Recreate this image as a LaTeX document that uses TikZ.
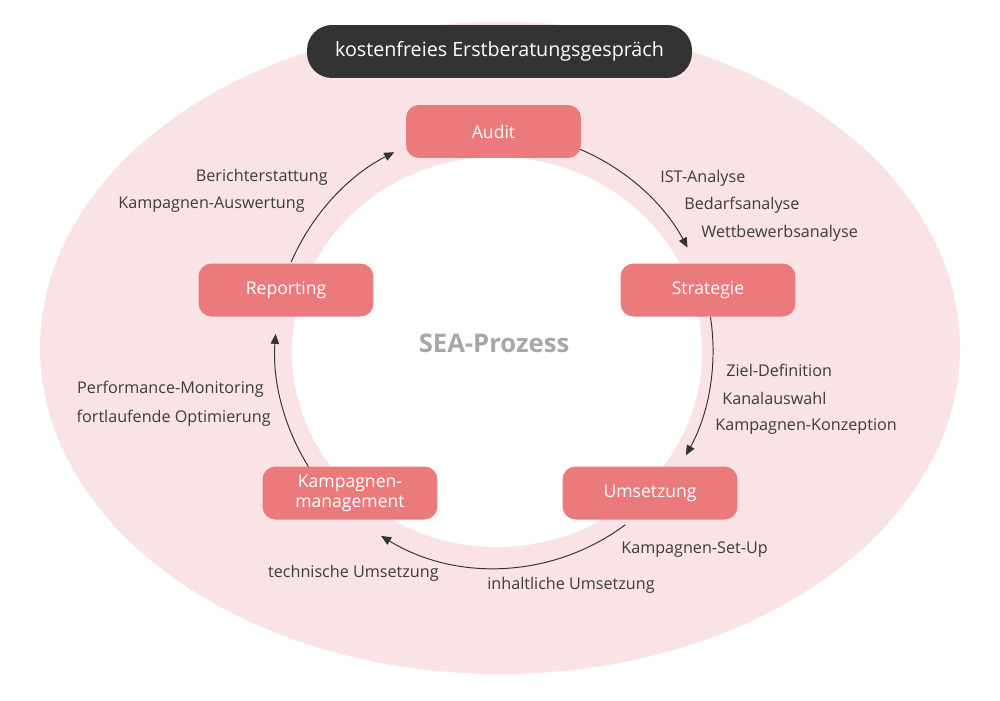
\documentclass[tikz,border=0pt]{standalone}
\usepackage{fontspec}
\setmainfont{Open Sans}
\usetikzlibrary{arrows.meta,calc}
\definecolor{nodepink}{HTML}{EB7A7C}
\definecolor{bgpink}{HTML}{F9E3E4}
\definecolor{darkbox}{HTML}{333333}
\definecolor{labeltext}{HTML}{3C3C3C}
\definecolor{seagray}{HTML}{A6A8A7}
\begin{document}
\begin{tikzpicture}[x=0.02cm,y=-0.02cm,
  stagebox/.style={fill=nodepink, rounded corners=0.26cm, minimum width=3.5cm, minimum height=1.06cm, text=white, font=\fontsize{10}{11.5}\selectfont, align=center, inner sep=0pt},
  topbox/.style={fill=darkbox, rounded corners=0.5cm, minimum width=7.7cm, minimum height=1.06cm, text=white, font=\fontsize{11.2}{13}\selectfont, inner sep=0pt},
  lbl/.style={text=labeltext, font=\fontsize{9.2}{11}\selectfont, inner sep=0pt},
  flow/.style={draw=darkbox, line width=0.55pt, -{Triangle[length=0.2cm,width=0.17cm]}}]
\useasboundingbox (0,0) rectangle (1000,700);
% background ellipses
\fill[bgpink] (500,348) ellipse [x radius=460, y radius=326];
\fill[white] (497,352) ellipse [x radius=205, y radius=195];
% centre of the process circle
\coordinate (C) at (495,350);
\coordinate (s1) at ($(C)+(-67:218)$);
\coordinate (s2) at ($(C)+(-8.7:218)$);
\coordinate (s3) at ($(C)+(53.3:218)$);
\coordinate (s4) at ($(C)+(147.3:220)$);
\coordinate (s5) at ($(C)+(203.4:222)$);
% connectors
\draw[flow] (s1) arc[start angle=-67, end angle=-28, radius=218];
\draw[flow] (s2) arc[start angle=-8.7, end angle=28.9, radius=218];
\draw[flow] (s3) arc[start angle=53.3, end angle=121.5, radius=218];
\draw[flow] (s4) arc[start angle=147.3, end angle=184.2, radius=220];
\draw[flow] (s5) arc[start angle=203.4, end angle=243, radius=222];
% nodes
\node[topbox] (consult) at (499.5,51.5) {kostenfreies Erstberatungsgespräch};
\node[stagebox] (audit) at (493.5,131.5) {Audit};
\node[stagebox] (strategie) at (708,290) {Strategie};
\node[stagebox] (umsetzung) at (650,493) {Umsetzung};
\node[stagebox] (kampagnen) at (350,493) {Kampagnen-\\management};
\node[stagebox] (reporting) at (286,290) {Reporting};
\node[font=\fontsize{14.6}{16}\selectfont\bfseries, text=seagray, inner sep=0pt] (sea) at (494,343) {SEA-Prozess};
% labels
\node[lbl, anchor=west] (l1) at (660,178) {IST-Analyse};
\node[lbl, anchor=west] (l2) at (684,205) {Bedarfsanalyse};
\node[lbl, anchor=west] (l3) at (701,233) {Wettbewerbsanalyse};
\node[lbl, anchor=west] (l4) at (726,370) {Ziel-Definition};
\node[lbl, anchor=west] (l5) at (722,398) {Kanalauswahl};
\node[lbl, anchor=west] (l6) at (715,427) {Kampagnen-Konzeption};
\node[lbl, anchor=west] (l7) at (621,550) {Kampagnen-Set-Up};
\node[lbl, anchor=west] (l8) at (487,585) {inhaltliche Umsetzung};
\node[lbl, anchor=east] (l9) at (439,573) {technische Umsetzung};
\node[lbl, anchor=east] (l10) at (328,177) {Berichterstattung};
\node[lbl, anchor=east] (l11) at (305,205) {Kampagnen-Auswertung};
\node[lbl, anchor=east] (l12) at (264,389) {Performance-Monitoring};
\node[lbl, anchor=east] (l13) at (271,418) {fortlaufende Optimierung};
\end{tikzpicture}
\end{document}
